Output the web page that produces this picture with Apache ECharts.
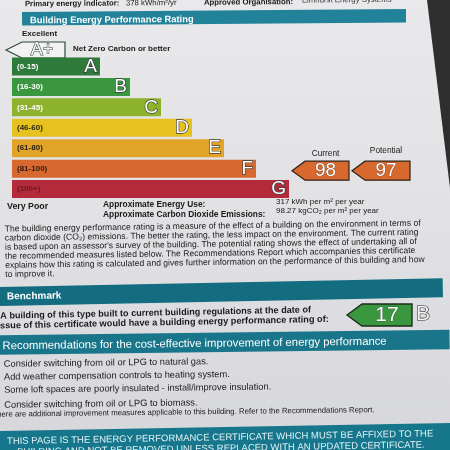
<!DOCTYPE html>
<html><head><meta charset="utf-8">
<script src="https://cdn.jsdelivr.net/npm/echarts@6/dist/echarts.min.js"></script>
<style>
html,body{margin:0;padding:0;}
#c{width:450px;height:450px;background:linear-gradient(180deg,#e9e9eb 0%,#e2e2e5 45%,#d6d7db 100%);}
</style>
</head><body><div id="c"></div>
<script>
// ---------- data ----------
const bands = ['A','B','C','D','E','F','G'];
const bandRanges = ['(0-15)','(16-30)','(31-45)','(46-60)','(61-80)','(81-100)','(100+)'];
const bandUpper = [15,30,45,60,80,100,Infinity];
const bandLengths = [88,118,149,180,212,244,277];
const ratingNames = ['Current','Potential'];
const ratingValues = [98, 97];
const benchmarkValue = 17;
const benchmarkBand = 'B';
const topInfo = ['Primary energy indicator:', '378 kWh/m²/yr', 'Approved Organisation:', 'Elmhurst Energy Systems'];
const usageLabels = ['Approximate Energy Use:', 'Approximate Carbon Dioxide Emissions:'];
const usageValues = ['317 kWh per m² per year', '98.27 kgCO₂ per m² per year'];
const paragraphLines = [
  'The building energy performance rating is a measure of the effect of a building on the environment in terms of',
  'carbon dioxide (CO₂) emissions. The better the rating, the less impact on the environment. The current rating',
  "is based upon an assessor's survey of the building. The potential rating shows the effect of undertaking all of",
  'the recommended measures listed below. The Recommendations Report which accompanies this certificate',
  'explains how this rating is calculated and gives further information on the performance of this building and how',
  'to improve it.'
];
const benchmarkLines = [
  'A building of this type built to current building regulations at the date of',
  'issue of this certificate would have a building energy performance rating of:'
];
const recommendations = [
  'Consider switching from oil or LPG to natural gas.',
  'Add weather compensation controls to heating system.',
  'Some loft spaces are poorly insulated - install/improve insulation.',
  'Consider switching from oil or LPG to biomass.'
];
const recNote = 'There are additional improvement measures applicable to this building. Refer to the Recommendations Report.';
const footerLines = [
  'THIS PAGE IS THE ENERGY PERFORMANCE CERTIFICATE WHICH MUST BE AFFIXED TO THE',
  'BUILDING AND NOT BE REMOVED UNLESS REPLACED WITH AN UPDATED CERTIFICATE.'
];

// ---------- style ----------
const bandColors = ['#2e7a3a','#3b9640','#8db32d','#e6c21f','#e2a428','#d8692e','#b42a3b'];
const rangeColors = ['#ffffff','#ffffff','#ffffff','#2a2616','#2a2012','#2a1a12','#6a1822'];
const TEAL = '#19758a';
const FF = '"Liberation Sans", Arial, sans-serif';
const f = (s, w) => `${w || 'normal'} ${s}px ${FF}`;
function T(x, y, text, size, o) {
  o = o || {};
  return { type: 'text', x: x, y: y, silent: true,
    style: { text: text, font: f(size, o.w), fill: o.fill || '#1a1a1a',
      align: o.align || 'left', verticalAlign: 'middle',
      stroke: o.stroke, lineWidth: o.lw || 0 } };
}
function R(x, y, w, h, fill) { return { type: 'rect', silent: true, shape: { x: x, y: y, width: w, height: h }, style: { fill: fill } }; }
function P(points, fill, stroke, lw) { return { type: 'polygon', silent: true, shape: { points: points }, style: { fill: fill, stroke: stroke, lineWidth: lw || 0 } }; }
function G(children, rot, ox, oy) { return { type: 'group', rotation: rot, originX: ox, originY: oy, children: children }; }

const chart = echarts.init(document.getElementById('c'), null, { renderer: 'canvas' });
chart.setOption({
  backgroundColor: 'transparent',
  animation: false,
  grid: { left: 12, top: 56.3, width: 400, height: 143 },
  xAxis: { type: 'value', min: 0, max: 400, show: false },
  yAxis: { type: 'category', data: bands, inverse: true, show: false },
  series: [
    { type: 'bar', barWidth: 18, silent: true,
      data: bandLengths.map((v, i) => ({ value: v, itemStyle: { color: bandColors[i] }, label: { color: rangeColors[i] } })),
      label: { show: true, position: 'insideLeft', distance: 5, fontSize: 8, fontWeight: 'bold', fontFamily: FF,
        formatter: p => bandRanges[p.dataIndex] } },
    { type: 'bar', barWidth: 18, barGap: '-100%', silent: true,
      data: bandLengths, itemStyle: { color: 'rgba(0,0,0,0)' },
      label: { show: true, position: 'insideRight', distance: 3, fontSize: 19, fontFamily: FF, color: '#ffffff',
        textBorderColor: '#3a3a3a', textBorderWidth: 1.3, formatter: p => bands[p.dataIndex] } }
  ]
});

function bandOf(v) { for (let i = 0; i < bandUpper.length; i++) if (v <= bandUpper[i]) return bands[i]; return bands[bands.length - 1]; }

const els = [];
// dark background beyond paper edge (top right)
els.push(P([[427,0],[450,0],[450,188]], '#2e2e2f'));

// top section
els.push(G([
  T(25, 2.5, topInfo[0], 7.8, { w: 'bold' }),
  T(126, 2.5, topInfo[1], 7.8),
  T(204, 2.5, topInfo[2], 7.8, { w: 'bold' }),
  T(302, 1, topInfo[3], 7.8, { fill: '#333' }),
  R(22, 10.5, 384, 13.5, '#22829a'),
  T(30, 19.2, 'Building Energy Performance Rating', 9.4, { w: 'bold', fill: '#ffffff' })
], 0.008, 225, 15));

els.push(T(22, 33.5, 'Excellent', 8, { w: 'bold' }));
els.push(P([[6,50],[22,42],[65,42],[65,58],[22,58]], '#f2f2f2', '#2b4a3c', 1.2));
els.push(T(42, 50.5, 'A+', 18, { align: 'center', fill: '#f4f4f4', stroke: '#2b4a3c', lw: 1.1 }));
els.push(T(73, 49, 'Net Zero Carbon or better', 8, { w: 'bold' }));

// rating arrows (current / potential)
const arrowX = [[292, 349], [352, 410]];
const labelDy = [-17, -20];
ratingValues.forEach((v, i) => {
  const yc = chart.convertToPixel({ yAxisIndex: 0 }, bandOf(v)) + 2;
  const [x0, x1] = arrowX[i];
  const col = bandColors[bands.indexOf(bandOf(v))];
  els.push(P([[x0, yc], [x0 + 13, yc - 9.5], [x1, yc - 9.5], [x1, yc + 9.5], [x0 + 13, yc + 9.5]], col, '#2e2018', 1.2));
  els.push(T((x0 + 10 + x1) / 2, yc, String(v), 19, { align: 'center', fill: '#ffffff', stroke: '#5a3020', lw: 0.6 }));
  els.push(T((x0 + 10 + x1) / 2, yc + labelDy[i], ratingNames[i], 8.3, { align: 'center' }));
});

// below chart
els.push(T(7, 207, 'Very Poor', 8.8, { w: 'bold' }));
els.push(T(103, 205, usageLabels[0], 8.4, { w: 'bold' }));
els.push(T(103, 214.5, usageLabels[1], 8.4, { w: 'bold' }));
els.push(T(276, 201.5, usageValues[0], 8));
els.push(T(276, 211, usageValues[1], 8));

// paragraph
els.push(G(paragraphLines.map((l, i) => T(5, 226 + i * 9.1, l, 8.6)), 0.014, 225, 250));

// benchmark
els.push(G([
  R(0, 282.5, 443, 19, '#136c80'),
  T(7, 292.4, 'Benchmark', 10, { w: 'bold', fill: '#ffffff' }),
  T(0, 311.6, benchmarkLines[0], 9.1, { w: 'bold' }),
  T(-3, 321.4, benchmarkLines[1], 9.2, { w: 'bold' })
], 0.02, 225, 300));
const bcol = bandColors[bands.indexOf(benchmarkBand)];
els.push(P([[347, 315], [362, 304], [412, 304], [412, 326], [362, 326]], bcol, '#1e2a1e', 1.4));
els.push(T(387, 315, String(benchmarkValue), 21, { align: 'center', fill: '#ffffff', stroke: '#2a3a2a', lw: 0.5 }));
els.push(T(423, 314.5, benchmarkBand, 21, { align: 'center', fill: '#f4f4f4', stroke: '#2a2a2a', lw: 1.2 }));

// recommendations
els.push(G([
  R(0, 332.5, 450, 19.5, TEAL),
  T(3, 343.5, 'Recommendations for the cost-effective improvement of energy performance', 11.3, { fill: '#ffffff' }),
  T(4, 361.5, recommendations[0], 9.3),
  T(4, 374.5, recommendations[1], 9.3),
  T(4, 387.5, recommendations[2], 9.3),
  T(4, 402.5, recommendations[3], 9.3),
  T(-8, 411.8, recNote, 7.8)
], 0.012, 225, 380));

// footer
els.push(G([
  R(-10, 427, 470, 40, '#16768c'),
  T(7, 437.5, footerLines[0], 9.5, { fill: '#dff1f4' }),
  T(17, 448.5, footerLines[1], 9.5, { fill: '#dff1f4' })
], 0.018, 225, 438));

chart.setOption({ graphic: { elements: els } });
</script>
</body></html>
